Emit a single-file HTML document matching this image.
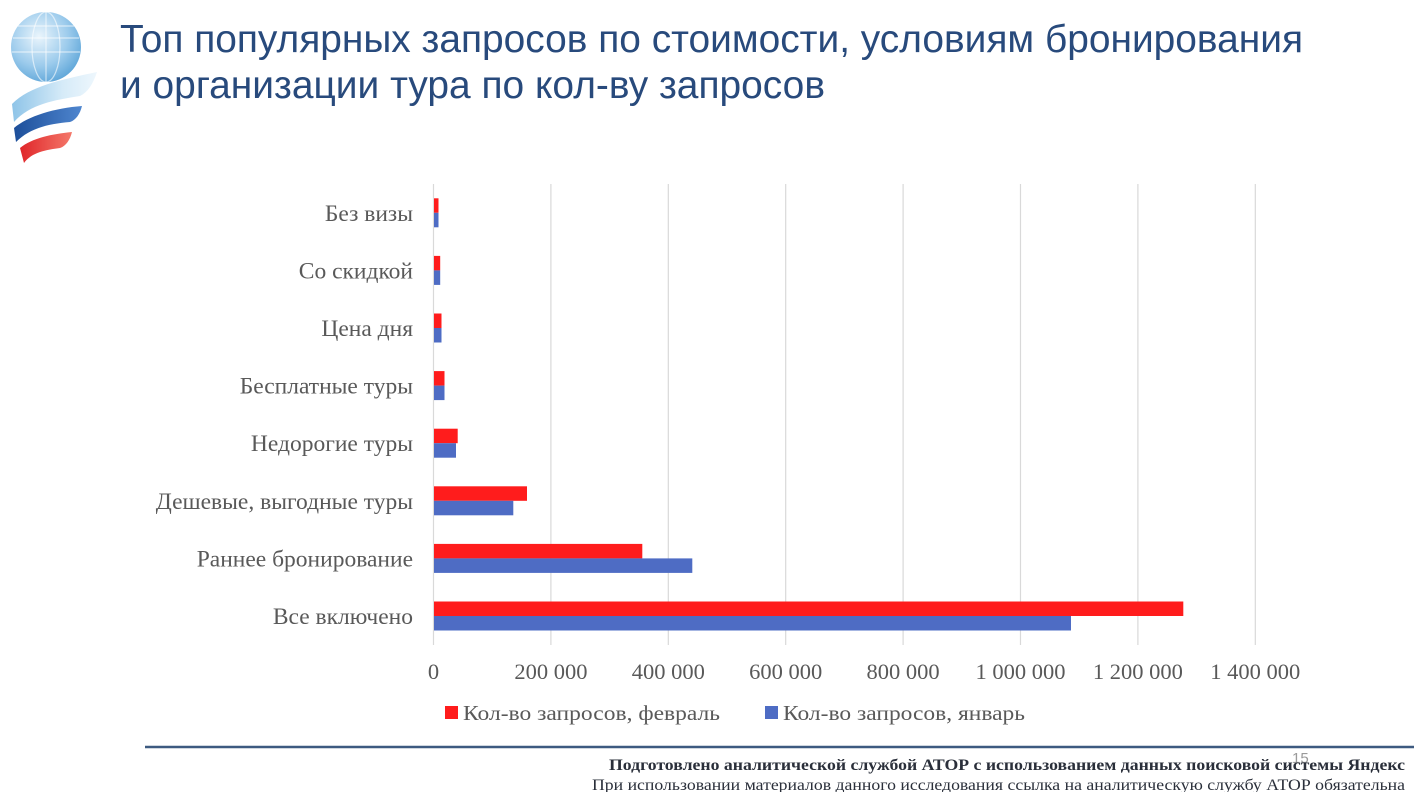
<!DOCTYPE html>
<html>
<head>
<meta charset="utf-8">
<style>
  html,body{margin:0;padding:0;background:#fff;}
  svg{display:block;}
</style>
</head>
<body>
<svg width="1414" height="792" viewBox="0 0 1414 792" xmlns="http://www.w3.org/2000/svg">
  <defs>
    <radialGradient id="glob" cx="0.4" cy="0.35" r="0.7">
      <stop offset="0" stop-color="#eaf5fc"/>
      <stop offset="0.6" stop-color="#9ccbec"/>
      <stop offset="1" stop-color="#5da5d8"/>
    </radialGradient>
    <linearGradient id="rib1" x1="0" y1="0" x2="1" y2="0">
      <stop offset="0" stop-color="#8ec4e8"/>
      <stop offset="0.6" stop-color="#d6ebf8"/>
      <stop offset="1" stop-color="#eef7fd"/>
    </linearGradient>
    <linearGradient id="rib2" x1="0" y1="0" x2="1" y2="0">
      <stop offset="0" stop-color="#1d4f9a"/>
      <stop offset="1" stop-color="#4f86cf"/>
    </linearGradient>
    <linearGradient id="rib3" x1="0" y1="0" x2="1" y2="0">
      <stop offset="0" stop-color="#e0262a"/>
      <stop offset="1" stop-color="#f4786a"/>
    </linearGradient>
  </defs>

  <!-- Logo -->
  <circle cx="46" cy="47" r="35" fill="url(#glob)"/>
  <g stroke="#ffffff" stroke-opacity="0.6" stroke-width="1.2" fill="none">
    <ellipse cx="46" cy="47" rx="14" ry="35"/>
    <line x1="46" y1="12" x2="46" y2="82"/>
    <line x1="13" y1="38" x2="79" y2="38"/>
    <line x1="12" y1="52" x2="80" y2="52"/>
    <line x1="18" y1="26" x2="74" y2="26"/>
  </g>
  <path d="M12 104 C 30 86, 60 80, 97 72 C 93 84, 88 92, 80 96 C 55 100, 30 104, 14 122 Z" fill="url(#rib1)"/>
  <path d="M14 128 C 28 116, 55 108, 82 106 C 80 114, 76 120, 70 122 C 48 124, 30 128, 16 142 Z" fill="url(#rib2)"/>
  <path d="M20 148 C 32 138, 52 134, 72 132 C 70 140, 66 146, 60 148 C 46 150, 32 152, 24 163 Z" fill="url(#rib3)"/>

  <!-- Title -->
  <g font-family="'Liberation Sans', sans-serif" font-size="39" fill="#284a7c">
    <text x="120" y="52" textLength="1183" lengthAdjust="spacingAndGlyphs">Топ популярных запросов по стоимости, условиям бронирования</text>
    <text x="120" y="98" textLength="705" lengthAdjust="spacingAndGlyphs">и организации тура по кол-ву запросов</text>
  </g>

  <!-- Gridlines -->
  <g stroke="#d9d9d9" stroke-width="1.2">
    <line x1="433.5" y1="184" x2="433.5" y2="645"/>
    <line x1="550.9" y1="184" x2="550.9" y2="645"/>
    <line x1="668.3" y1="184" x2="668.3" y2="645"/>
    <line x1="785.7" y1="184" x2="785.7" y2="645"/>
    <line x1="903.1" y1="184" x2="903.1" y2="645"/>
    <line x1="1020.5" y1="184" x2="1020.5" y2="645"/>
    <line x1="1137.9" y1="184" x2="1137.9" y2="645"/>
    <line x1="1255.3" y1="184" x2="1255.3" y2="645"/>
  </g>

  <!-- Bars -->
  <g>
    <rect x="434" y="198.3" width="4.5" height="14.5" fill="#ff1c1c"/>
    <rect x="434" y="212.8" width="4.5" height="14.5" fill="#4e6cc4"/>
    <rect x="434" y="255.9" width="6.2" height="14.5" fill="#ff1c1c"/>
    <rect x="434" y="270.4" width="6.2" height="14.5" fill="#4e6cc4"/>
    <rect x="434" y="313.5" width="7.5" height="14.5" fill="#ff1c1c"/>
    <rect x="434" y="328.0" width="7.5" height="14.5" fill="#4e6cc4"/>
    <rect x="434" y="371.1" width="10.5" height="14.5" fill="#ff1c1c"/>
    <rect x="434" y="385.6" width="10.5" height="14.5" fill="#4e6cc4"/>
    <rect x="434" y="428.7" width="23.7" height="14.5" fill="#ff1c1c"/>
    <rect x="434" y="443.2" width="22" height="14.5" fill="#4e6cc4"/>
    <rect x="434" y="486.3" width="93" height="14.5" fill="#ff1c1c"/>
    <rect x="434" y="500.8" width="79.3" height="14.5" fill="#4e6cc4"/>
    <rect x="434" y="543.9" width="208.3" height="14.5" fill="#ff1c1c"/>
    <rect x="434" y="558.4" width="258.3" height="14.5" fill="#4e6cc4"/>
    <rect x="434" y="601.5" width="749.3" height="14.5" fill="#ff1c1c"/>
    <rect x="434" y="616.0" width="637" height="14.5" fill="#4e6cc4"/>
  </g>

  <!-- Category labels -->
  <g font-family="'Liberation Serif', serif" font-size="23.5" fill="#595959" text-anchor="end">
    <text x="413" y="220.8">Без визы</text>
    <text x="413" y="278.4">Со скидкой</text>
    <text x="413" y="336.0">Цена дня</text>
    <text x="413" y="393.6">Бесплатные туры</text>
    <text x="413" y="451.2">Недорогие туры</text>
    <text x="413" y="508.8">Дешевые, выгодные туры</text>
    <text x="413" y="566.4">Раннее бронирование</text>
    <text x="413" y="624.0">Все включено</text>
  </g>

  <!-- Tick labels -->
  <g font-family="'Liberation Serif', serif" font-size="22.5" fill="#595959" text-anchor="middle">
    <text x="433.5" y="679">0</text>
    <text x="550.9" y="679">200 000</text>
    <text x="668.3" y="679">400 000</text>
    <text x="785.7" y="679">600 000</text>
    <text x="903.1" y="679">800 000</text>
    <text x="1020.5" y="679">1 000 000</text>
    <text x="1137.9" y="679">1 200 000</text>
    <text x="1255.3" y="679">1 400 000</text>
  </g>

  <!-- Legend -->
  <rect x="445" y="706" width="13" height="13" fill="#ff1c1c"/>
  <rect x="765" y="706" width="13" height="13" fill="#4e6cc4"/>
  <g font-family="'Liberation Serif', serif" font-size="21" fill="#595959">
    <text x="463" y="720" textLength="257" lengthAdjust="spacingAndGlyphs">Кол-во запросов, февраль</text>
    <text x="783" y="720" textLength="242" lengthAdjust="spacingAndGlyphs">Кол-во запросов, январь</text>
  </g>

  <!-- Footer -->
  <line x1="145" y1="747" x2="1414" y2="747" stroke="#3d5a80" stroke-width="2.5"/>
  <text x="1292" y="763" font-family="'Liberation Sans', sans-serif" font-size="15" fill="#9a9a9a">15</text>
  <g font-family="'Liberation Serif', serif" fill="#2a2f3a">
    <text x="609" y="770" font-size="15.5" font-weight="bold" textLength="796" lengthAdjust="spacingAndGlyphs">Подготовлено аналитической службой АТОР с использованием данных поисковой системы Яндекс</text>
    <text x="592" y="790" font-size="16" textLength="813" lengthAdjust="spacingAndGlyphs">При использовании материалов данного исследования ссылка на аналитическую службу АТОР обязательна</text>
  </g>
</svg>
</body>
</html>
